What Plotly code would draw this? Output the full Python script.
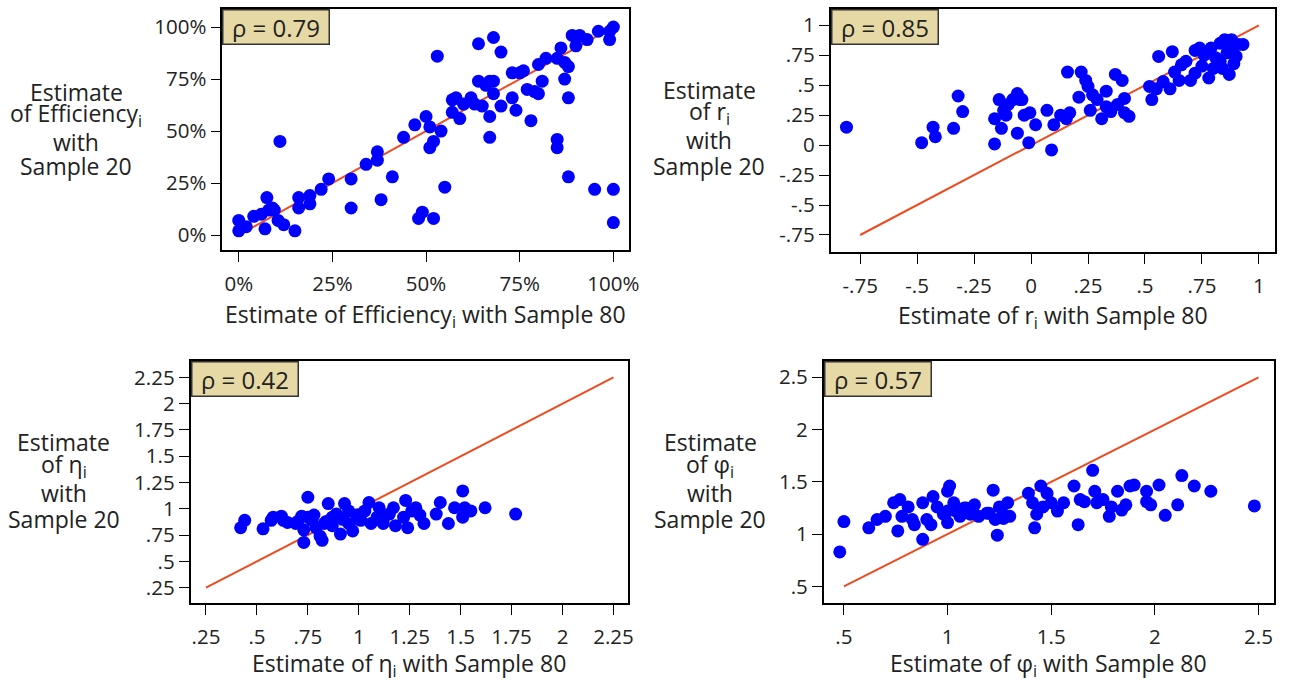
import plotly.graph_objects as go

# Efficiency (share), sample 80 vs sample 20
eff_x80 = [0.00, 0.00, 0.01, 0.02, 0.04, 0.06, 0.08, 0.09, 0.075, 0.07, 0.095, 0.105, 0.12, 0.11,
           0.15, 0.16, 0.16, 0.19, 0.19, 0.22, 0.24, 0.30, 0.30, 0.34, 0.37, 0.37, 0.38, 0.41,
           0.44, 0.47, 0.48, 0.49, 0.50, 0.51, 0.52, 0.51, 0.52, 0.53, 0.54, 0.55, 0.57, 0.58,
           0.59, 0.57, 0.60, 0.62, 0.63, 0.64, 0.68, 0.70, 0.65, 0.64, 0.66, 0.67, 0.68, 0.68,
           0.67, 0.67, 0.70, 0.73, 0.74, 0.73, 0.75, 0.76, 0.77, 0.78, 0.79, 0.80, 0.81, 0.80,
           0.82, 0.85, 0.86, 0.85, 0.85, 0.87, 0.88, 0.87, 0.88, 0.88, 0.89, 0.91, 0.90, 0.93,
           0.95, 0.96, 0.99, 1.00, 0.99, 1.00, 1.00]
eff_y20 = [0.02, 0.07, 0.04, 0.04, 0.09, 0.10, 0.12, 0.13, 0.18, 0.03, 0.12, 0.07, 0.05, 0.45,
           0.02, 0.18, 0.13, 0.15, 0.19, 0.22, 0.27, 0.13, 0.27, 0.34, 0.40, 0.36, 0.17, 0.28,
           0.47, 0.53, 0.08, 0.11, 0.57, 0.52, 0.08, 0.42, 0.45, 0.86, 0.50, 0.23, 0.65, 0.66,
           0.56, 0.59, 0.63, 0.66, 0.63, 0.92, 0.95, 0.88, 0.62, 0.74, 0.72, 0.74, 0.74, 0.68,
           0.57, 0.47, 0.62, 0.66, 0.60, 0.78, 0.78, 0.79, 0.70, 0.55, 0.69, 0.68, 0.74, 0.82,
           0.85, 0.85, 0.90, 0.46, 0.42, 0.83, 0.81, 0.75, 0.66, 0.28, 0.96, 0.96, 0.91, 0.94,
           0.22, 0.98, 0.98, 1.00, 0.94, 0.22, 0.06]

# r_i
r_x80 = [-0.81, -0.48, -0.43, -0.42, -0.34, -0.32, -0.30, -0.16, -0.16, -0.14, -0.13, -0.12,
         -0.11, -0.10, -0.08, -0.06, -0.05, -0.04, -0.06, -0.03, -0.01, -0.005, 0.02, 0.07,
         0.09, 0.10, 0.13, 0.16, 0.155, 0.17, 0.21, 0.22, 0.24, 0.25, 0.27, 0.26, 0.29, 0.31,
         0.33, 0.33, 0.35, 0.37, 0.38, 0.40, 0.41, 0.41, 0.43, 0.53, 0.52, 0.55, 0.56, 0.58,
         0.61, 0.62, 0.63, 0.65, 0.66, 0.68, 0.70, 0.72, 0.74, 0.75, 0.76, 0.78, 0.79, 0.81,
         0.83, 0.83, 0.84, 0.85, 0.86, 0.87, 0.88, 0.89, 0.90, 0.91, 0.93, 0.88, 0.80, 0.72]
r_y20 = [0.15, 0.02, 0.15, 0.07, 0.14, 0.41, 0.28, 0.01, 0.22, 0.38, 0.14, 0.29, 0.25, 0.34,
         0.38, 0.43, 0.38, 0.38, 0.10, 0.25, 0.02, 0.27, 0.17, 0.29, -0.04, 0.17, 0.25, 0.61,
         0.22, 0.27, 0.40, 0.61, 0.54, 0.49, 0.42, 0.29, 0.38, 0.22, 0.32, 0.45, 0.28, 0.59,
         0.34, 0.54, 0.27, 0.39, 0.24, 0.38, 0.49, 0.47, 0.74, 0.53, 0.47, 0.78, 0.61, 0.54,
         0.67, 0.70, 0.54, 0.60, 0.81, 0.66, 0.75, 0.56, 0.81, 0.73, 0.85, 0.70, 0.64, 0.88,
         0.77, 0.59, 0.82, 0.68, 0.74, 0.84, 0.84, 0.88, 0.64, 0.79]

# eta_i
eta_x80 = [0.42, 0.44, 0.53, 0.57, 0.58, 0.63, 0.65, 0.69, 0.73, 0.75, 0.75, 0.77, 0.78, 0.81,
           0.82, 0.83, 0.85, 0.87, 0.89, 0.91, 0.93, 0.95, 0.97, 0.99, 1.01, 1.03, 1.05, 1.06,
           1.09, 1.10, 1.12, 1.15, 1.17, 1.18, 1.22, 1.23, 1.24, 1.26, 1.28, 1.30, 1.32, 1.38,
           1.40, 1.44, 1.47, 1.51, 1.51, 1.52, 1.55, 1.62, 1.77, 0.62, 0.70, 0.72, 0.73, 0.79,
           0.84, 0.87, 0.92, 0.95, 1.00, 1.12]
eta_y20 = [0.82, 0.89, 0.81, 0.89, 0.92, 0.89, 0.87, 0.86, 0.68, 1.11, 0.92, 0.89, 0.94, 0.74,
           0.70, 0.86, 1.05, 0.92, 0.95, 0.76, 1.05, 0.86, 0.79, 0.94, 0.89, 0.98, 1.06, 0.86,
           0.92, 1.01, 0.86, 0.95, 1.01, 0.84, 0.92, 1.08, 0.82, 0.98, 1.01, 0.94, 0.86, 0.95,
           1.06, 0.86, 1.01, 1.17, 0.92, 1.01, 0.98, 1.01, 0.95, 0.93, 0.88, 0.93, 0.80, 0.82,
           0.88, 0.84, 0.90, 0.98, 0.90, 0.90]

# phi_i
phi_x80 = [0.48, 0.50, 0.62, 0.66, 0.70, 0.74, 0.76, 0.77, 0.78, 0.81, 0.83, 0.84, 0.88, 0.88,
           0.90, 0.92, 0.93, 0.95, 0.98, 1.00, 1.01, 1.00, 1.03, 1.04, 1.06, 1.09, 1.11, 1.13,
           1.15, 1.19, 1.22, 1.24, 1.23, 1.25, 1.27, 1.29, 1.30, 1.39, 1.41, 1.42, 1.43, 1.45,
           1.46, 1.48, 1.50, 1.53, 1.56, 1.61, 1.63, 1.64, 1.66, 1.70, 1.71, 1.72, 1.75, 1.78,
           1.79, 1.82, 1.84, 1.86, 1.88, 1.90, 1.96, 1.96, 1.98, 2.02, 2.05, 2.11, 2.13, 2.19,
           2.27, 2.48, 1.00, 1.08, 1.20, 1.27]
phi_y20 = [0.83, 1.12, 1.06, 1.14, 1.17, 1.30, 1.03, 1.33, 1.17, 1.26, 1.14, 1.09, 0.95, 1.30,
           1.14, 1.09, 1.36, 1.26, 1.19, 1.41, 1.46, 1.11, 1.30, 1.22, 1.17, 1.25, 1.19, 1.28,
           1.17, 1.20, 1.42, 0.99, 1.14, 1.26, 1.19, 1.30, 1.17, 1.39, 1.30, 1.06, 1.19, 1.46,
           1.26, 1.39, 1.30, 1.22, 1.30, 1.46, 1.09, 1.33, 1.31, 1.61, 1.41, 1.30, 1.33, 1.17,
           1.26, 1.41, 1.23, 1.28, 1.46, 1.47, 1.41, 1.31, 1.28, 1.47, 1.18, 1.28, 1.56, 1.46,
           1.41, 1.27, 1.22, 1.25, 1.20, 1.15]

eff_ticks = [0, 0.25, 0.5, 0.75, 1]
eff_labels = ["0%", "25%", "50%", "75%", "100%"]
r_ticks = [-0.75, -0.5, -0.25, 0, 0.25, 0.5, 0.75, 1]
r_labels = ["-.75", "-.5", "-.25", "0", ".25", ".5", ".75", "1"]
eta_ticks = [0.25, 0.5, 0.75, 1, 1.25, 1.5, 1.75, 2, 2.25]
eta_labels = [".25", ".5", ".75", "1", "1.25", "1.5", "1.75", "2", "2.25"]
phi_ticks = [0.5, 1, 1.5, 2, 2.5]
phi_labels = [".5", "1", "1.5", "2", "2.5"]

rhos = ["0.79", "0.85", "0.42", "0.57"]

FONT = "Open Sans"
TXT = "#222"
BLUE = "#0000ff"
LINE = "#ee4b1e"

W, H = 1294, 683


def fx(px):
    return px / W


def fy(py):
    return 1 - py / H


panels = [
    dict(x=eff_x80, y=eff_y20, ticks=eff_ticks, labels=eff_labels, diag=(0, 1),
         xr=[-0.044, 1.042], yr=[-0.072, 1.087], frame=(224, 634, 9, 250),
         xt="Estimate of Efficiency<sub>i</sub> with Sample 80",
         yt=["Estimate", "of Efficiency<sub>i</sub>", "with", "Sample 20"],
         xty=315, ytx=77, yty=(92, 118, 142, 166)),
    dict(x=r_x80, y=r_y20, ticks=r_ticks, labels=r_labels, diag=(-0.75, 1),
         xr=[-0.88, 1.071], yr=[-0.892, 1.136], frame=(837, 1285, 9, 252),
         xt="Estimate of r<sub>i</sub> with Sample 80",
         yt=["Estimate", "of r<sub>i</sub>", "with", "Sample 20"],
         xty=316, ytx=715, yty=(90, 115, 140, 166)),
    dict(x=eta_x80, y=eta_y20, ticks=eta_ticks, labels=eta_labels, diag=(0.25, 2.25),
         xr=[0.174, 2.322], yr=[0.104, 2.406], frame=(192, 633, 361, 603),
         xt="Estimate of η<sub>i</sub> with Sample 80",
         yt=["Estimate", "of η<sub>i</sub>", "with", "Sample 20"],
         xty=664, ytx=64, yty=(442, 468, 493, 519)),
    dict(x=phi_x80, y=phi_y20, ticks=phi_ticks, labels=phi_labels, diag=(0.5, 2.5),
         xr=[0.402, 2.575], yr=[0.341, 2.656], frame=(830, 1284, 361, 603),
         xt="Estimate of φ<sub>i</sub> with Sample 80",
         yt=["Estimate", "of φ<sub>i</sub>", "with", "Sample 20"],
         xty=664, ytx=716, yty=(442, 468, 493, 519)),
]

fig = go.Figure()
annotations = []
layout = {}

for i, p in enumerate(panels):
    n = "" if i == 0 else str(i + 1)
    xa, ya = "x" + n, "y" + n
    left, right, top, bottom = p["frame"]
    fig.add_trace(go.Scatter(x=list(p["diag"]), y=list(p["diag"]), mode="lines",
                             line=dict(color=LINE, width=2), xaxis=xa, yaxis=ya,
                             showlegend=False, hoverinfo="skip"))
    fig.add_trace(go.Scatter(x=p["x"], y=p["y"], mode="markers",
                             marker=dict(color=BLUE, size=13, line=dict(width=0)),
                             xaxis=xa, yaxis=ya, showlegend=False))
    common = dict(showline=True, mirror=True, linecolor="black", linewidth=1.5,
                  ticks="outside", ticklen=10, tickwidth=1, tickcolor="black",
                  showgrid=False, zeroline=False, tickvals=p["ticks"], ticktext=p["labels"],
                  tickfont=dict(family=FONT, size=20.5, color=TXT), fixedrange=True)
    layout["xaxis" + n] = dict(common, range=p["xr"], domain=[fx(left), fx(right)], anchor=ya,
                               ticklabelstandoff=5)
    layout["yaxis" + n] = dict(common, range=p["yr"], domain=[fy(bottom), fy(top)], anchor=xa)

    annotations.append(dict(text="ρ = " + rhos[i], xref="paper", yref="paper",
                            x=fx(left), y=fy(top), xanchor="left", yanchor="top",
                            showarrow=False, font=dict(family=FONT, size=24, color=TXT),
                            bgcolor="#e6d9a5", bordercolor="#333", borderwidth=1.5,
                            borderpad=1.5, width=102, height=30))
    annotations.append(dict(text=p["xt"], xref="paper", yref="paper",
                            x=fx((left + right) / 2), y=fy(p["xty"]),
                            xanchor="center", yanchor="middle", showarrow=False,
                            font=dict(family=FONT, size=23, color=TXT)))
    # one annotation per line of the stacked y title, to get the tighter line spacing
    for line_text, ly in zip(p["yt"], p["yty"]):
        if "<sub>" in line_text:
            ly -= 3
        annotations.append(dict(text=line_text, xref="paper", yref="paper",
                                x=fx(p["ytx"]), y=fy(ly), xanchor="center", yanchor="middle",
                                showarrow=False, font=dict(family=FONT, size=23, color=TXT)))

fig.update_layout(**layout)
fig.update_layout(width=W, height=H, margin=dict(l=0, r=0, t=0, b=0),
                  paper_bgcolor="white", plot_bgcolor="white",
                  font=dict(family=FONT), annotations=annotations)

# drop the browser's default 8px body margin so the figure fills the window exactly
fig.write_html("out.html", config={"displayModeBar": False},
               post_script="document.body.style.margin = '0';")
